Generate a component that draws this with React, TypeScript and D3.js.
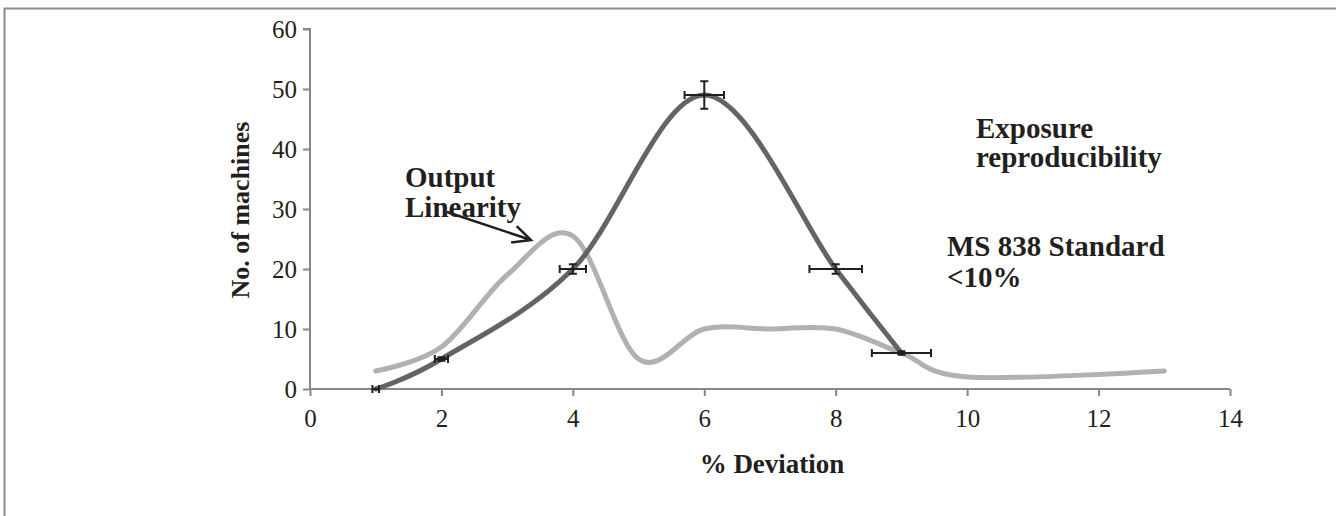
import React, { useEffect, useRef } from "react";
import * as d3 from "d3";

// Exposure reproducibility (dark line, with error bars)
const exposureX = [1, 2, 4, 6, 8, 9];
const exposureY = [0, 5, 20, 49, 20, 6];
const exposureErrX = [0.05, 0.1, 0.2, 0.3, 0.4, 0.45];
const exposureErrY = [0, 0.3, 0.8, 2.3, 0.8, 0.3];

// Output linearity (light line)
const linearityX = [1, 2, 3, 4, 5, 6, 7, 8, 9, 10, 13];
const linearityY = [3, 7, 19, 25.5, 5, 10, 10, 10, 6, 2, 3];

const xTicks = [0, 2, 4, 6, 8, 10, 12, 14];
const yTicks = [0, 10, 20, 30, 40, 50, 60];

const W = 1336;
const H = 516;

export default function App() {
  const ref = useRef<SVGSVGElement | null>(null);

  useEffect(() => {
    const svg = d3.select(ref.current);
    svg.selectAll("*").remove();

    const serif = "'Liberation Serif', 'Times New Roman', serif";
    const axisColor = "#878787";

    // outer frame
    svg.append("rect")
      .attr("x", 4.5).attr("y", 8.5)
      .attr("width", W + 20).attr("height", H + 20)
      .attr("fill", "white")
      .attr("stroke", "#8c8c8c")
      .attr("stroke-width", 2);

    const x = d3.scaleLinear().domain([0, 14]).range([310, 1230]);
    const y = d3.scaleLinear().domain([0, 60]).range([389, 29]);

    // y axis
    const gy = svg.append("g").attr("transform", `translate(${x(0)},0)`)
      .call(d3.axisLeft(y).tickValues(yTicks).tickSize(7).tickPadding(6));
    // x axis
    const gx = svg.append("g").attr("transform", `translate(0,${y(0)})`)
      .call(d3.axisBottom(x).tickValues(xTicks).tickSize(7).tickPadding(13));

    [gx, gy].forEach(g => {
      g.select(".domain").attr("stroke", axisColor).attr("stroke-width", 2);
      g.selectAll(".tick line").attr("stroke", axisColor).attr("stroke-width", 2);
      g.selectAll(".tick text")
        .attr("fill", "#231f20")
        .style("font-family", serif)
        .style("font-size", "25px");
    });
    gy.select(".domain").attr("d", `M-7,${y(60)}H0V${y(0)}`);
    gx.select(".domain").attr("d", `M${x(0)},0H${x(14)}`);

    const line = d3.line<[number, number]>()
      .x(d => x(d[0]))
      .y(d => y(d[1]))
      .curve(d3.curveCardinal.tension(0));

    const lin: [number, number][] = linearityX.map((v, i) => [v, linearityY[i]]);
    const exp: [number, number][] = exposureX.map((v, i) => [v, exposureY[i]]);

    svg.append("path")
      .attr("d", line(lin))
      .attr("fill", "none")
      .attr("stroke", "#b1b1b3")
      .attr("stroke-width", 5)
      .attr("stroke-linecap", "round");

    svg.append("path")
      .attr("d", line(exp))
      .attr("fill", "none")
      .attr("stroke", "#646466")
      .attr("stroke-width", 5)
      .attr("stroke-linecap", "round");

    // error bars
    const eb = svg.append("g").attr("stroke", "#231f20").attr("stroke-width", 2);
    exp.forEach((d, i) => {
      const cx = x(d[0]), cy = y(d[1]);
      const x0 = x(d[0] - exposureErrX[i]), x1 = x(d[0] + exposureErrX[i]);
      eb.append("path").attr("d",
        `M${x0},${cy}H${x1}M${x0},${cy - 4}V${cy + 4}M${x1},${cy - 4}V${cy + 4}`);
      if (exposureErrY[i] > 0) {
        const y0 = y(d[1] + exposureErrY[i]), y1 = y(d[1] - exposureErrY[i]);
        eb.append("path").attr("d",
          `M${cx},${y0}V${y1}M${cx - 4},${y0}H${cx + 4}M${cx - 4},${y1}H${cx + 4}`);
      }
    });

    // annotations
    const label = (tx: number, ty: number, lines: string[], gap: number) => {
      const t = svg.append("text")
        .attr("x", tx).attr("y", ty)
        .attr("fill", "#231f20")
        .style("font-family", serif)
        .style("font-weight", "bold")
        .style("font-size", "29px");
      lines.forEach((s, i) => {
        t.append("tspan").attr("x", tx).attr("dy", i === 0 ? 0 : gap).text(s);
      });
    };
    label(405, 187, ["Output", "Linearity"], 30);
    label(976, 138, ["Exposure", "reproducibility"], 29);
    label(947, 256, ["MS 838 Standard", "<10%"], 31);

    // arrow
    const ax0 = 447, ay0 = 212, ax1 = 531, ay1 = 240;
    const ang = Math.atan2(ay1 - ay0, ax1 - ax0);
    const hl = 20, ha = 0.45;
    svg.append("path")
      .attr("d",
        `M${ax0},${ay0}L${ax1},${ay1}` +
        `M${ax1 - hl * Math.cos(ang - ha)},${ay1 - hl * Math.sin(ang - ha)}L${ax1},${ay1}` +
        `L${ax1 - hl * Math.cos(ang + ha)},${ay1 - hl * Math.sin(ang + ha)}`)
      .attr("fill", "none")
      .attr("stroke", "#231f20")
      .attr("stroke-width", 2.5);

    // axis titles
    svg.append("text")
      .attr("x", 772).attr("y", 473)
      .attr("text-anchor", "middle")
      .attr("fill", "#231f20")
      .style("font-family", serif)
      .style("font-weight", "bold")
      .style("font-size", "27px")
      .text("% Deviation");

    svg.append("text")
      .attr("transform", `translate(249,210) rotate(-90)`)
      .attr("text-anchor", "middle")
      .attr("fill", "#231f20")
      .style("font-family", serif)
      .style("font-weight", "bold")
      .style("font-size", "26px")
      .text("No. of machines");
  }, []);

  return (
    <svg ref={ref} width={W} height={H}
      style={{ position: "absolute", left: 0, top: 0, background: "white" }} />
  );
}
